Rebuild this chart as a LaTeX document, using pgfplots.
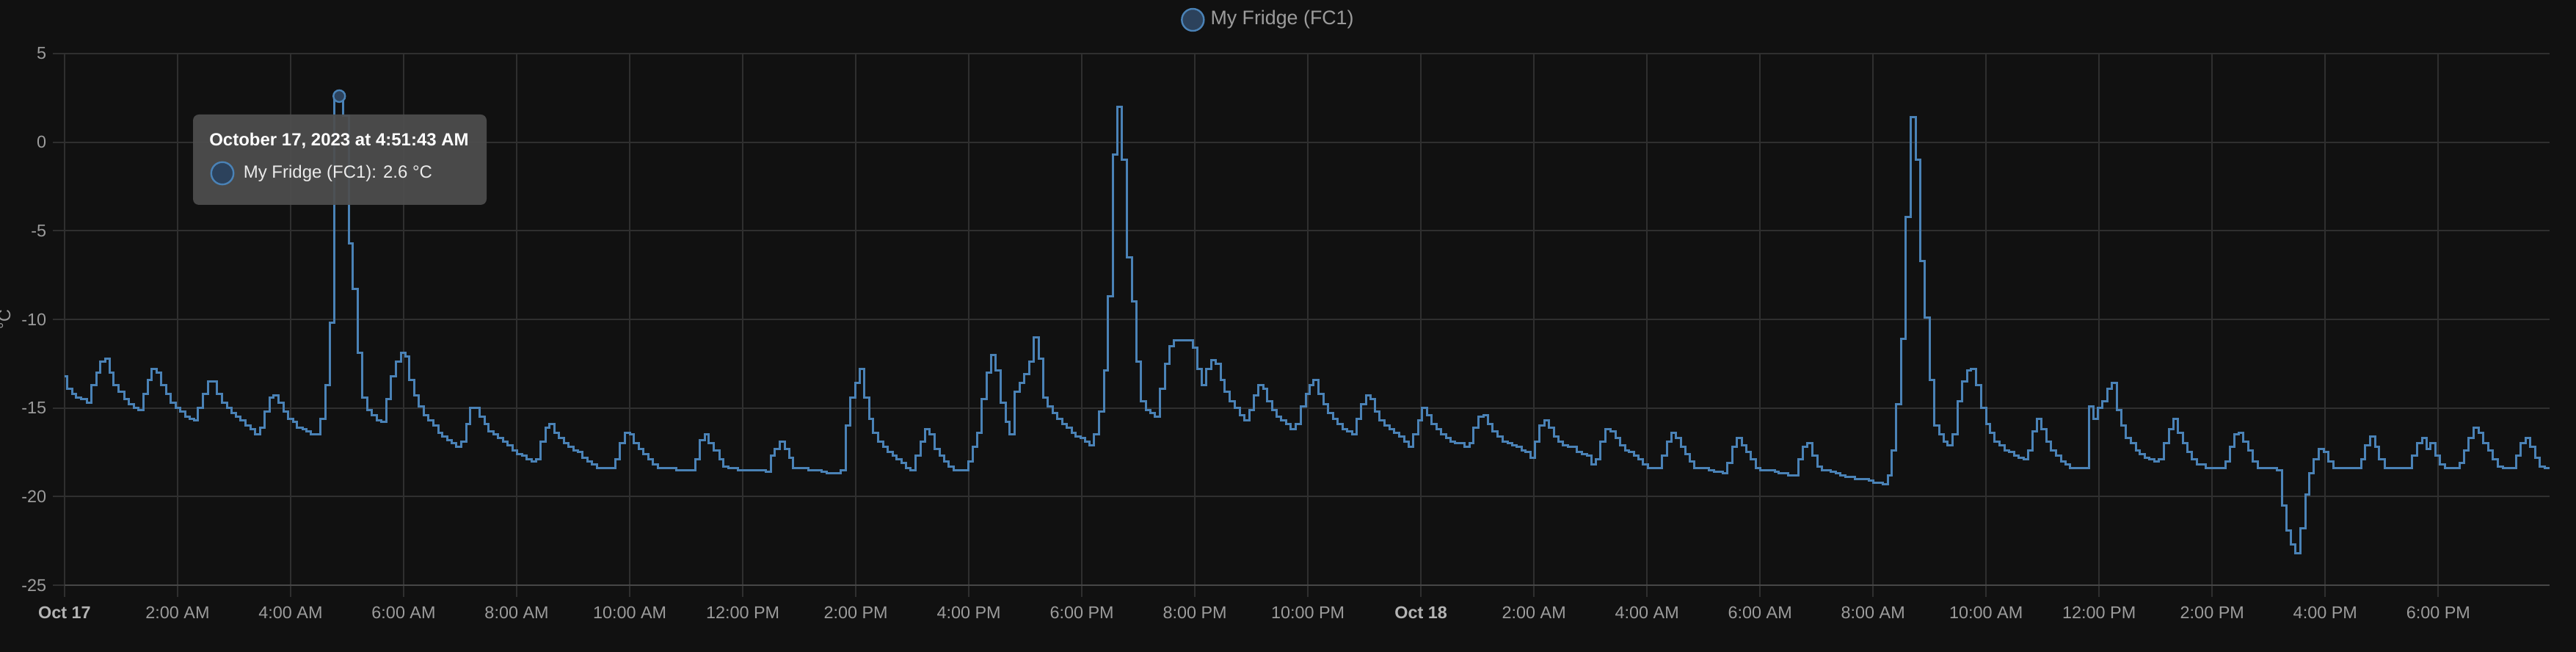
\documentclass[border=0pt]{standalone}
\usepackage{fontspec}
\setmainfont{Liberation Sans}
\usepackage{pgfplots}
\usepackage{pgfplotstable}
\pgfplotsset{compat=1.18}
\definecolor{bg}{HTML}{111111}
\definecolor{gridc}{HTML}{2F2F2F}
\definecolor{axisc}{HTML}{474747}
\definecolor{tickc}{HTML}{9C9C9C}
\definecolor{tickb}{HTML}{B4B4B4}
\definecolor{linec}{HTML}{4A82B6}
\definecolor{markfill}{HTML}{2C425C}
\definecolor{tipc}{HTML}{4E4E4E}

\pgfplotstableread{
t v
0.00 -13.2
0.05 -13.9
0.13 -14.2
0.20 -14.4
0.29 -14.5
0.39 -14.7
0.48 -13.7
0.56 -13.0
0.63 -12.4
0.72 -12.2
0.80 -13.0
0.87 -13.7
0.96 -14.1
1.06 -14.5
1.13 -14.8
1.23 -15.0
1.30 -15.1
1.39 -14.2
1.47 -13.4
1.54 -12.8
1.63 -13.0
1.71 -13.7
1.80 -14.2
1.88 -14.7
1.97 -15.0
2.05 -15.2
2.14 -15.5
2.21 -15.6
2.29 -15.7
2.36 -15.0
2.45 -14.2
2.54 -13.5
2.70 -14.2
2.79 -14.7
2.87 -15.0
2.96 -15.3
3.03 -15.5
3.11 -15.7
3.20 -16.0
3.29 -16.2
3.37 -16.5
3.46 -16.1
3.54 -15.2
3.63 -14.4
3.70 -14.3
3.78 -14.7
3.87 -15.2
3.95 -15.6
4.04 -15.8
4.11 -16.1
4.21 -16.2
4.28 -16.3
4.36 -16.5
4.52 -15.6
4.61 -13.7
4.69 -10.2
4.77 2.6
4.93 1.5
5.03 -5.7
5.10 -8.3
5.19 -11.9
5.27 -14.4
5.36 -15.1
5.43 -15.4
5.53 -15.7
5.60 -15.8
5.69 -14.5
5.77 -13.2
5.86 -12.4
5.95 -11.9
6.03 -12.1
6.10 -13.4
6.19 -14.3
6.27 -14.9
6.35 -15.4
6.44 -15.7
6.52 -16.0
6.61 -16.4
6.68 -16.6
6.77 -16.8
6.85 -17.0
6.93 -17.2
7.02 -16.9
7.11 -15.9
7.18 -15.0
7.34 -15.5
7.43 -15.9
7.50 -16.3
7.59 -16.5
7.67 -16.7
7.76 -16.9
7.84 -17.1
7.93 -17.4
8.01 -17.6
8.10 -17.7
8.17 -17.9
8.26 -18.0
8.34 -17.9
8.42 -16.9
8.51 -16.1
8.58 -15.9
8.67 -16.4
8.75 -16.7
8.84 -17.0
8.92 -17.2
9.01 -17.4
9.08 -17.5
9.16 -17.8
9.25 -18.0
9.33 -18.2
9.42 -18.4
9.75 -17.9
9.82 -17.0
9.91 -16.4
10.00 -16.5
10.07 -17.0
10.16 -17.3
10.24 -17.6
10.33 -17.9
10.41 -18.2
10.50 -18.4
10.82 -18.5
11.16 -17.9
11.24 -16.8
11.33 -16.5
11.40 -17.0
11.49 -17.4
11.59 -17.9
11.66 -18.3
11.74 -18.4
11.91 -18.5
12.41 -18.6
12.50 -17.7
12.57 -17.3
12.66 -16.9
12.75 -17.3
12.82 -17.8
12.89 -18.4
13.16 -18.5
13.40 -18.6
13.49 -18.7
13.73 -18.5
13.82 -16.0
13.90 -14.4
13.99 -13.6
14.07 -12.8
14.15 -14.4
14.24 -15.6
14.31 -16.4
14.40 -16.9
14.48 -17.2
14.56 -17.5
14.65 -17.7
14.72 -17.9
14.81 -18.1
14.89 -18.4
14.97 -18.5
15.06 -17.7
15.15 -16.9
15.22 -16.2
15.31 -16.5
15.39 -17.3
15.48 -17.7
15.56 -18.0
15.64 -18.3
15.73 -18.5
15.99 -18.0
16.07 -17.2
16.15 -16.4
16.23 -14.5
16.31 -13.0
16.40 -12.0
16.47 -12.9
16.56 -14.7
16.65 -15.8
16.72 -16.5
16.81 -14.1
16.90 -13.6
16.98 -13.1
17.07 -12.4
17.15 -11.0
17.24 -12.2
17.31 -14.4
17.39 -14.9
17.48 -15.3
17.56 -15.6
17.65 -15.9
17.73 -16.1
17.82 -16.4
17.89 -16.6
17.98 -16.7
18.06 -16.9
18.14 -17.1
18.21 -16.5
18.30 -15.2
18.39 -12.9
18.46 -8.7
18.55 -0.7
18.63 2.0
18.71 -1.0
18.80 -6.5
18.89 -9.0
18.97 -12.4
19.04 -14.6
19.13 -15.1
19.21 -15.3
19.29 -15.5
19.38 -13.9
19.47 -12.5
19.55 -11.5
19.63 -11.2
19.96 -11.6
20.04 -12.8
20.12 -13.7
20.20 -12.8
20.29 -12.3
20.37 -12.5
20.46 -13.4
20.53 -14.1
20.62 -14.6
20.71 -15.0
20.80 -15.4
20.87 -15.7
20.96 -15.1
21.04 -14.3
21.12 -13.7
21.21 -13.9
21.28 -14.6
21.37 -15.1
21.45 -15.5
21.53 -15.7
21.62 -15.9
21.69 -16.2
21.78 -15.9
21.87 -14.9
21.96 -14.2
22.03 -13.7
22.10 -13.4
22.19 -14.2
22.28 -14.8
22.36 -15.3
22.45 -15.6
22.53 -15.9
22.62 -16.2
22.69 -16.3
22.78 -16.5
22.86 -15.6
22.94 -14.8
23.03 -14.3
23.11 -14.5
23.19 -15.2
23.27 -15.7
23.36 -16.0
23.44 -16.2
23.53 -16.4
23.61 -16.6
23.70 -16.9
23.78 -17.2
23.86 -16.5
23.95 -15.7
24.02 -15.0
24.11 -15.4
24.19 -15.9
24.28 -16.2
24.36 -16.5
24.45 -16.7
24.52 -16.9
24.60 -17.0
24.77 -17.2
24.86 -17.0
24.93 -16.1
25.02 -15.5
25.11 -15.4
25.18 -15.9
25.27 -16.3
25.35 -16.6
25.44 -16.9
25.53 -17.0
25.61 -17.1
25.69 -17.2
25.78 -17.4
25.85 -17.5
25.94 -17.8
26.02 -16.9
26.10 -16.0
26.19 -15.7
26.26 -16.1
26.35 -16.6
26.43 -16.9
26.51 -17.1
26.60 -17.2
26.76 -17.5
26.85 -17.6
26.94 -17.7
27.02 -18.2
27.10 -17.9
27.17 -16.9
27.26 -16.2
27.35 -16.3
27.44 -16.7
27.52 -17.1
27.61 -17.4
27.68 -17.5
27.77 -17.7
27.85 -17.9
27.93 -18.2
28.02 -18.4
28.26 -17.7
28.35 -16.9
28.43 -16.4
28.51 -16.7
28.60 -17.2
28.68 -17.6
28.76 -18.0
28.84 -18.4
29.10 -18.5
29.19 -18.6
29.34 -18.7
29.42 -18.1
29.51 -17.2
29.59 -16.7
29.68 -17.1
29.76 -17.5
29.84 -17.9
29.92 -18.4
30.00 -18.5
30.26 -18.6
30.33 -18.7
30.50 -18.8
30.68 -17.9
30.76 -17.2
30.84 -17.0
30.93 -17.7
31.02 -18.3
31.10 -18.5
31.25 -18.6
31.34 -18.7
31.42 -18.8
31.51 -18.9
31.68 -19.0
31.92 -19.1
32.00 -19.2
32.17 -19.3
32.26 -18.8
32.33 -17.4
32.41 -14.8
32.50 -11.1
32.58 -4.2
32.66 1.4
32.75 -1.0
32.83 -6.7
32.91 -9.9
33.00 -13.4
33.08 -16.0
33.17 -16.5
33.25 -16.9
33.32 -17.1
33.41 -16.5
33.50 -14.6
33.58 -13.5
33.66 -12.9
33.73 -12.8
33.82 -13.7
33.91 -15.0
34.00 -15.9
34.07 -16.4
34.15 -16.9
34.24 -17.1
34.33 -17.4
34.41 -17.5
34.49 -17.7
34.57 -17.8
34.66 -17.9
34.74 -17.4
34.82 -16.3
34.90 -15.6
34.98 -16.2
35.07 -16.9
35.15 -17.4
35.24 -17.7
35.33 -18.0
35.41 -18.2
35.48 -18.4
35.82 -14.9
35.90 -15.6
35.98 -15.0
36.06 -14.6
36.15 -13.9
36.23 -13.6
36.31 -15.1
36.39 -16.0
36.47 -16.7
36.56 -17.0
36.65 -17.4
36.72 -17.6
36.81 -17.8
36.89 -17.9
36.98 -18.0
37.06 -17.9
37.14 -17.0
37.23 -16.2
37.31 -15.6
37.39 -16.4
37.48 -17.0
37.56 -17.5
37.64 -17.9
37.73 -18.2
37.89 -18.4
38.23 -18.0
38.31 -17.2
38.39 -16.5
38.47 -16.4
38.55 -16.9
38.64 -17.4
38.72 -18.0
38.81 -18.4
39.15 -18.5
39.23 -20.5
39.31 -21.9
39.39 -22.7
39.47 -23.2
39.56 -21.8
39.65 -19.9
39.72 -18.7
39.80 -17.9
39.89 -17.3
39.97 -17.5
40.05 -18.0
40.14 -18.4
40.64 -17.9
40.71 -17.1
40.79 -16.6
40.88 -17.2
40.95 -17.9
41.05 -18.4
41.54 -17.7
41.62 -17.0
41.71 -16.7
41.80 -17.3
41.86 -17.0
41.95 -17.7
42.03 -18.2
42.12 -18.4
42.38 -18.1
42.46 -17.4
42.54 -16.7
42.63 -16.1
42.71 -16.4
42.80 -17.0
42.88 -17.4
42.96 -17.9
43.05 -18.3
43.14 -18.4
43.38 -17.7
43.46 -17.0
43.55 -16.7
43.63 -17.2
43.71 -17.8
43.79 -18.3
43.88 -18.4
43.97 -18.4
}\fridge

\begin{document}
\begin{tikzpicture}
\fill[bg] (-22pt,-22.75pt) rectangle (855.5pt,199.25pt);
\useasboundingbox (-22pt,-22.75pt) rectangle (855.5pt,199.25pt);
\begin{axis}[
  at={(0pt,0pt)}, anchor=south west,
  scale only axis, width=846.5pt, height=181pt,
  xmin=0, xmax=43.97, ymin=-25, ymax=5,
  axis lines*=left,
  x axis line style={axisc, line width=0.6pt},
  y axis line style={draw=none},
  xtick={0,2,...,42},
  xticklabels={{\color{tickb}\bfseries Oct 17},2:00 AM,4:00 AM,6:00 AM,8:00 AM,10:00 AM,12:00 PM,2:00 PM,4:00 PM,6:00 PM,8:00 PM,10:00 PM,{\color{tickb}\bfseries Oct 18},2:00 AM,4:00 AM,6:00 AM,8:00 AM,10:00 AM,12:00 PM,2:00 PM,4:00 PM,6:00 PM},
  ytick={-25,-20,...,5},
  yticklabels={-25,-20,-15,-10,-5,0,5},
  grid=major,
  major grid style={gridc, line width=0.5pt},
  tick style={gridc, line width=0.5pt},
  major tick length=4pt, tick align=outside,
  ticklabel style={font=\fontsize{5.85}{7}\selectfont, text=tickc},
  xticklabel style={inner sep=0pt, yshift=-3.2pt},
  yticklabel style={inner sep=0pt, xshift=-2pt},
  ylabel={°C},
  ylabel style={at={(rel axis cs:0,0.5)}, anchor=center, yshift=20.5pt, font=\fontsize{5.85}{7}\selectfont, text=tickc},
  legend style={at={(rel axis cs:0.449,1.0635)}, anchor=west, draw=none, fill=none, inner sep=0pt,
    font=\fontsize{6.7}{8}\selectfont, text=tickc},
  legend cell align=left,
]
\addplot[const plot, linec, line width=0.75pt,
  legend image code/.code={\draw[fill=markfill, draw=linec, line width=0.6pt] (3.75pt,0pt) circle (3.75pt);}]
  table[x=t, y=v] {\fridge};
\addlegendentry{My Fridge (FC1)}
\addplot[only marks, mark=*, mark size=2pt, mark options={fill=markfill, draw=linec, line width=0.6pt}, forget plot]
  coordinates {(4.86,2.6)};
\end{axis}
% tooltip
\fill[tipc, opacity=0.93, rounded corners=2pt] (43.75pt,129.5pt) rectangle (143.75pt,160.25pt);
\node[text=white, font=\fontsize{6}{7}\selectfont\bfseries, anchor=center, inner sep=0pt] at (93.5pt,151.25pt) {October 17, 2023 at 4:51:43 AM};
\draw[fill=markfill, draw=linec, line width=0.6pt] (53.75pt,140.25pt) circle (3.8pt);
\node[text=white!92!black, font=\fontsize{6}{7}\selectfont, anchor=west, inner sep=0pt] at (60.75pt,140.25pt) {My Fridge (FC1): 2.6 °C};
\end{tikzpicture}
\end{document}
